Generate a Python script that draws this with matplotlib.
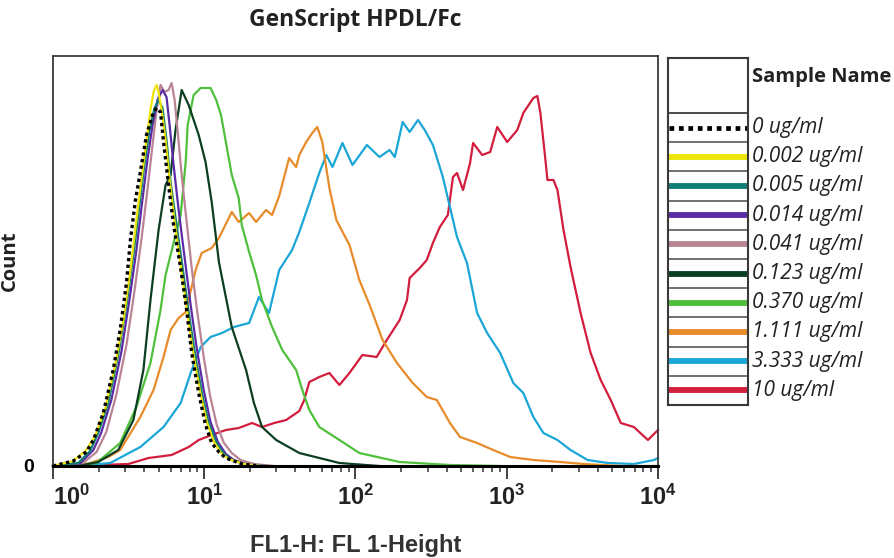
import numpy as np
import matplotlib.pyplot as plt

plt.rcParams['font.family'] = ['Open Sans', 'DejaVu Sans']
plt.rcParams['mathtext.fontset'] = 'custom'
plt.rcParams['mathtext.rm'] = 'Liberation Sans'
plt.rcParams['mathtext.bf'] = 'Liberation Sans:bold'

# FL1-H intensity and counts, one pair per sample
fl1_0 = [1.00, 1.36, 1.66, 1.85, 2.15, 2.50, 2.78, 3.06, 3.25, 3.51, 3.78, 4.15, 4.62, 4.84,
         5.14, 5.38, 5.81, 6.27, 6.98, 7.65, 8.26, 9.19, 10.2, 11.2, 12.5, 13.9, 17.7, 23.0]
cnt_0 = [0, 5, 14, 26, 53, 96, 136, 183, 226, 266, 294, 331, 354, 358,
         354, 324, 281, 241, 198, 156, 113, 73, 41, 23, 14, 8, 2, 0]

fl1_0002 = [1.00, 1.36, 1.66, 1.91, 2.22, 2.58, 2.92, 3.25, 3.56, 3.84, 4.15, 4.41, 4.62, 4.84, 4.99,
            5.22, 5.55, 5.90, 6.37, 6.98, 7.65, 8.39, 9.33, 10.4, 11.6, 12.9, 14.5, 18.3, 23.7]
cnt_0002 = [0, 5, 16, 31, 58, 101, 146, 196, 246, 286, 326, 356, 374, 381, 374,
            356, 326, 286, 244, 201, 158, 116, 76, 44, 24, 13, 7, 2, 0]

fl1_0005 = [1.00, 1.47, 1.76, 1.99, 2.32, 2.70, 3.06, 3.40, 3.73, 4.02, 4.35, 4.69, 4.99,
            5.30, 5.63, 5.99, 6.56, 7.20, 7.89, 8.64, 9.62, 10.7, 12.0, 13.5, 15.2, 19.2, 24.8]
cnt_0005 = [0, 3, 15, 33, 63, 111, 161, 211, 261, 301, 336, 358, 366,
            358, 326, 284, 241, 198, 154, 114, 74, 43, 24, 12, 6, 1, 0]

fl1_0014 = [1.00, 1.52, 1.85, 2.08, 2.43, 2.83, 3.20, 3.56, 3.90, 4.21, 4.55, 4.91, 5.30, 5.63,
            5.90, 6.27, 6.77, 7.42, 8.13, 8.91, 9.92, 11.0, 12.3, 13.9, 15.7, 19.8, 26.0]
cnt_0014 = [0, 3, 16, 33, 66, 114, 166, 216, 266, 306, 341, 366, 376, 369,
            341, 301, 256, 208, 161, 118, 76, 44, 24, 12, 6, 1, 0]

fl1_0041 = [1.00, 1.58, 1.94, 2.25, 2.62, 3.06, 3.45, 3.84, 4.21, 4.55, 4.84, 5.14, 5.46, 5.81, 6.08,
            6.37, 6.66, 7.09, 7.65, 8.26, 9.05, 9.92, 10.9, 12.1, 13.5, 15.2, 17.4, 21.3, 29.0]
cnt_0041 = [0, 3, 14, 34, 71, 121, 174, 226, 276, 321, 356, 381, 374, 376, 383,
            366, 336, 291, 244, 198, 151, 109, 71, 41, 23, 13, 6, 2, 0]

fl1_0123 = [1.00, 1.58, 1.99, 2.70, 3.40, 3.96, 4.41, 4.99, 5.55, 5.99, 6.46, 7.09, 7.89, 9.19,
            10.2, 11.2, 12.5, 15.2, 18.9, 21.3, 24.1, 29.9, 42.5, 78.3, 144]
cnt_0123 = [0, 1, 4, 16, 46, 96, 166, 236, 281, 291, 336, 376, 361, 331,
            304, 264, 204, 139, 96, 63, 39, 26, 13, 3, 0]

fl1_0370 = [1.00, 1.47, 1.94, 2.78, 3.56, 4.41, 5.14, 5.55, 5.99, 6.98, 7.54, 7.77, 8.51, 9.47,
            11.0, 12.0, 12.9, 13.9, 15.2, 16.9, 17.7, 19.8, 22.0, 24.1, 28.1, 32.8, 40.5, 44.5,
            49.5, 57.6, 78.3, 106, 196, 421, 905]
cnt_0370 = [0, 1, 3, 23, 59, 103, 156, 191, 211, 251, 304, 341, 371, 378,
            378, 366, 351, 324, 291, 268, 241, 214, 191, 166, 139, 116, 96, 76,
            56, 39, 26, 13, 4, 1, 0]

fl1_1111 = [1.00, 1.47, 1.76, 2.32, 2.78, 3.78, 4.62, 5.38, 5.99, 6.77, 7.54, 8.77, 9.62, 11.2,
            12.5, 15.2, 16.9, 19.8, 22.0, 25.6, 28.1, 31.3, 36.4, 40.5, 42.5, 47.2, 51.8, 55.9,
            60.3, 67.2, 74.7, 91.2, 106, 124, 151, 188, 239, 296, 345, 421, 491, 637, 814,
            1055, 1500, 2266, 3220, 5674, 10000]
cnt_1111 = [0, 1, 3, 9, 16, 49, 76, 109, 136, 148, 154, 196, 213, 218,
            228, 254, 244, 253, 244, 256, 251, 270, 308, 299, 311, 324, 333, 339,
            324, 278, 246, 221, 186, 161, 126, 103, 83, 69, 66, 43, 29, 23, 16,
            9, 6, 4, 2, 0, 0]

fl1_3333 = [1.00, 1.71, 2.39, 3.78, 5.38, 6.98, 8.13, 9.47, 11.0, 13.1, 15.7, 19.8, 23.0, 26.8,
            31.3, 38.1, 42.5, 49.5, 57.6, 64.1, 70.4, 82.0, 95.5, 119, 144, 168, 182, 205,
            228, 259, 287, 325, 378, 421, 469, 546, 637, 742, 905, 1105, 1287, 1500, 1747,
            2164, 2641, 3425, 4651, 6923, 9401, 10000]
cnt_3333 = [0, 1, 3, 19, 39, 63, 93, 119, 129, 133, 139, 143, 169, 153,
            196, 216, 234, 263, 293, 311, 299, 323, 301, 321, 309, 316, 309, 344,
            334, 346, 336, 321, 289, 259, 229, 203, 153, 133, 113, 83, 73, 49, 33,
            26, 16, 6, 3, 2, 6, 8]

fl1_10 = [1.00, 1.99, 3.15, 4.28, 6.08, 7.89, 9.19, 11.2, 13.9, 16.9, 20.7, 24.1, 29.0, 34.8,
          42.5, 45.8, 49.5, 57.6, 67.2, 78.3, 91.2, 111, 138, 161, 196, 219, 228, 266, 296,
          325, 361, 408, 441, 469, 514, 572, 599, 688, 777, 865, 1007, 1174, 1287, 1499,
          1594, 1669, 1802, 1858, 2036, 2164, 2373, 2641, 3077, 3586, 4179, 4869, 5674,
          6923, 8576, 10000]
cnt_10 = [0, 1, 2, 8, 11, 19, 26, 31, 36, 38, 43, 39, 43, 46,
          55, 66, 84, 89, 93, 81, 93, 111, 109, 126, 146, 166, 188, 198, 206,
          223, 239, 251, 289, 293, 276, 303, 323, 311, 314, 339, 324, 336, 353, 368,
          370, 353, 306, 286, 286, 276, 236, 199, 153, 113, 86, 66, 43,
          39, 26, 36]

samples = ['0 ug/ml', '0.002 ug/ml', '0.005 ug/ml', '0.014 ug/ml', '0.041 ug/ml',
           '0.123 ug/ml', '0.370 ug/ml', '1.111 ug/ml', '3.333 ug/ml', '10 ug/ml']
fl1 = [fl1_0, fl1_0002, fl1_0005, fl1_0014, fl1_0041, fl1_0123, fl1_0370, fl1_1111, fl1_3333, fl1_10]
counts = [cnt_0, cnt_0002, cnt_0005, cnt_0014, cnt_0041, cnt_0123, cnt_0370, cnt_1111, cnt_3333, cnt_10]
colors = ['black', '#efe40a', '#107e74', '#5b2aa6', '#b98493',
          '#0c3f22', '#4fc03c', '#e88b2a', '#1aa6d6', '#d21d3d']
styles = [(0, (1, 1)), '-', '-', '-', '-', '-', '-', '-', '-', '-']

fig = plt.figure(figsize=(8.95, 5.58), dpi=100)
ax = fig.add_axes([53/895, 92/558, 605/895, 410/558])

# draw highest concentration first so the control ends up on top
for i in reversed(range(len(samples))):
    lw = 2.4 if i == 0 else 1.6
    ax.plot(fl1[i], counts[i], color=colors[i], lw=lw, linestyle=styles[i], clip_on=False)

ax.set_xscale('log')
ax.set_xlim(1, 10000)
ax.set_ylim(0, 410)

for s in ['left', 'top', 'right']:
    ax.spines[s].set_color('#3a3a3a')
    ax.spines[s].set_linewidth(1.3)
ax.spines['bottom'].set_color('black')
ax.spines['bottom'].set_linewidth(2.2)

ax.set_xticks([1, 10, 100, 1000, 10000])
ax.set_xticklabels([r'$\mathbf{10^{%d}}$' % k for k in range(5)], fontsize=17, color='#222222')
ax.get_xticklabels()[0].set_ha('left')
ax.tick_params(axis='x', which='major', length=9, width=1.3, color='#333333', pad=5)
ax.tick_params(axis='x', which='minor', length=4.5, width=1.1, color='#333333')
ax.set_yticks([0])
ax.set_yticklabels(['0'], fontsize=14, fontweight='bold', family=['Liberation Sans'])
ax.tick_params(axis='y', length=0, pad=14)

ax.set_xlabel('FL1-H: FL 1-Height', fontsize=17, fontweight='bold', color='#333333',
              family=['Liberation Sans'])
ax.xaxis.set_label_coords(0.501, -0.165)
ax.set_ylabel('Count', fontsize=14.5, fontweight='bold', color='#222222')
ax.yaxis.set_label_coords(-0.055, 0.5)

fig.text(355/895, 1 - 20/558, 'GenScript HPDL/Fc', ha='center', va='center',
         fontsize=16.5, fontweight='bold', color='#222222')

# legend table on the right
leg = fig.add_axes([668/895, 153/558, 80/895, 347/558])
leg.set_xlim(0, 1)
leg.set_ylim(0, 347)
leg.set_xticks([])
leg.set_yticks([])
for s in leg.spines.values():
    s.set_color('#3a3a3a')
    s.set_linewidth(1.5)
row_h = 29.2
top = 292
leg.axhline(top, color='#3a3a3a', lw=1.3)
leg.text(1.05, 328, 'Sample Name', fontsize=14.5, fontweight='bold', va='center', ha='left',
         color='#222222', clip_on=False)
for i, name in enumerate(samples):
    yc = top - row_h * (i + 0.5)
    if i > 0:
        leg.axhline(top - row_h * i, color='#4a4a4a', lw=1.1)
    lw = 3.4 if i == 0 else 4.2
    leg.plot([0.01, 0.99], [yc, yc], color=colors[i], lw=lw, linestyle=styles[i],
             solid_capstyle='butt')
    leg.text(1.05, yc, name, fontsize=15, style='italic', va='center', ha='left',
             color='#222222', clip_on=False)

fig.savefig('out.png', dpi=100)
